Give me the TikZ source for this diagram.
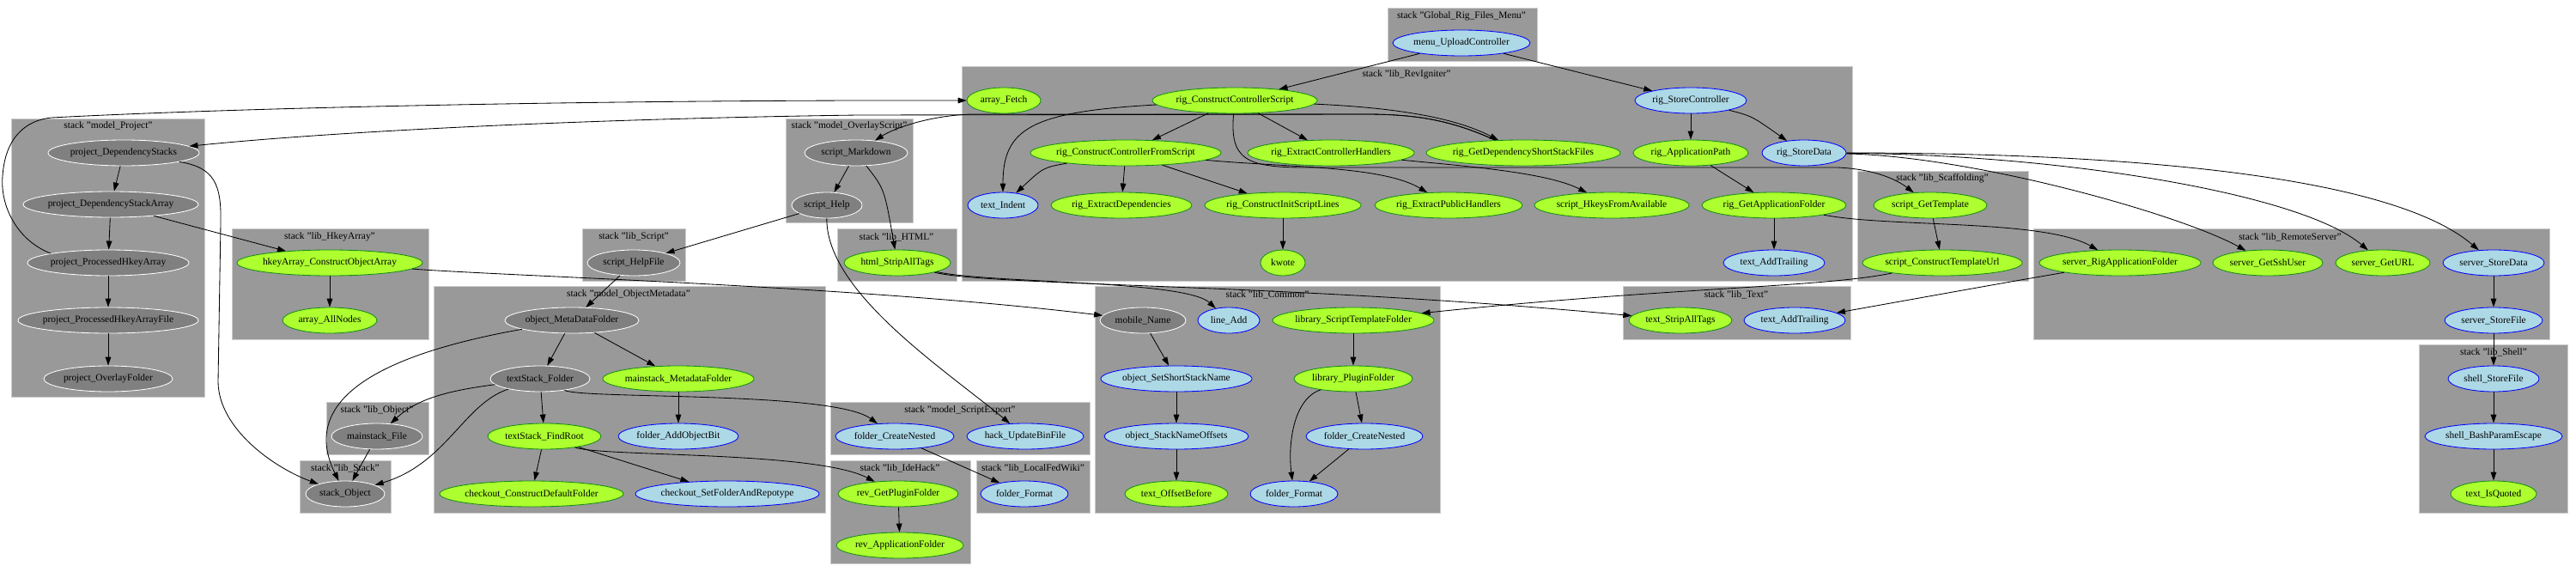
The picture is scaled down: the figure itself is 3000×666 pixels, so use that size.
\documentclass[tikz,border=0pt]{standalone}
\usepackage{fontspec}
\setmainfont{Liberation Serif}
\usetikzlibrary{shapes.geometric,arrows.meta}
\definecolor{clfill}{RGB}{153,153,153}
\definecolor{clline}{RGB}{204,204,204}
\definecolor{gnfill}{RGB}{128,128,128}
\definecolor{grfill}{RGB}{173,255,47}
\definecolor{grline}{RGB}{20,140,20}
\definecolor{blfill}{RGB}{173,216,230}
\definecolor{blline}{RGB}{0,0,255}
\tikzset{
 nd/.style={ellipse, inner xsep=-6pt, inner ysep=0pt, minimum height=36pt, minimum width=#1*2.4pt, line width=1pt, font=\fontsize{13.7}{16}\selectfont},
 gn/.style={nd=#1, fill=gnfill, draw=white},
 gr/.style={nd=#1, fill=grfill, draw=grline},
 bl/.style={nd=#1, fill=blfill, draw=blline},
 cl/.style={fill=clfill, draw=clline, line width=1pt},
 cll/.style={font=\fontsize{13.7}{16}\selectfont, inner sep=0pt},
 ed/.style={line width=1pt, -{Triangle[length=12pt,width=8pt]}},
}
\begin{document}
\begin{tikzpicture}[x=1.2pt,y=-1.2pt]
\useasboundingbox[fill=white] (0,0) rectangle (3000,666);
% clusters
\path[cl] (1616,9) rectangle (1790,71);
\path[cl] (1120,77) rectangle (2157,327);
\path[cl] (13,138) rectangle (238,462);
\path[cl] (915,138) rectangle (1063,259);
\path[cl] (270,266) rectangle (499,395);
\path[cl] (678,266) rectangle (798,327);
\path[cl] (975,266) rectangle (1114,327);
\path[cl] (2163,199) rectangle (2362,327);
\path[cl] (505,333) rectangle (961,597);
\path[cl] (1275,333) rectangle (1677,597);
\path[cl] (1890,333) rectangle (2155,395);
\path[cl] (2368,266) rectangle (2969,395);
\path[cl] (2817,401) rectangle (2990,597);
\path[cl] (380,468) rectangle (499,529);
\path[cl] (349,536) rectangle (455,597);
\path[cl] (967,468) rectangle (1269,529);
\path[cl] (967,536) rectangle (1130,656);
\path[cl] (1137,536) rectangle (1269,597);
% cluster labels
\node[cll] (Lmenu) at (1702,19) {stack "Global\_Rig\_Files\_Menu"};
\node[cll] (Lrev) at (1638,87) {stack "lib\_RevIgniter"};
\node[cll] (Lproj) at (126,147) {stack "model\_Project"};
\node[cll] (Lovl) at (989,147) {stack "model\_OverlayScript"};
\node[cll] (Lhk) at (384,276) {stack "lib\_HkeyArray"};
\node[cll] (Lscr) at (738,276) {stack "lib\_Script"};
\node[cll] (Lhtml) at (1044,276) {stack "lib\_HTML"};
\node[cll] (Lscaf) at (2262,208) {stack "lib\_Scaffolding"};
\node[cll] (Lomd) at (732,343) {stack "model\_ObjectMetadata"};
\node[cll] (Lcom) at (1476,343) {stack "lib\_Common"};
\node[cll] (Ltext) at (2022,343) {stack "lib\_Text"};
\node[cll] (Lrem) at (2667,276) {stack "lib\_RemoteServer"};
\node[cll] (Lsh) at (2904,410) {stack "lib\_Shell"};
\node[cll] (Lobj) at (439,478) {stack "lib\_Object"};
\node[cll] (Lstk) at (402,545) {stack "lib\_Stack"};
\node[cll] (Lexp) at (1118,478) {stack "model\_ScriptExport"};
\node[cll] (Lide) at (1048,545) {stack "lib\_IdeHack"};
\node[cll] (Lfed) at (1203,545) {stack "lib\_LocalFedWiki"};
% nodes
\node[bl=80] (menu) at (1702,50) {menu\_UploadController};
\node[gr=43] (arrayFetch) at (1169,117) {array\_Fetch};
\node[gr=96] (rccs) at (1438,117) {rig\_ConstructControllerScript};
\node[bl=65] (rsc) at (1969,117) {rig\_StoreController};
\node[gr=111] (rccfs) at (1311,178) {rig\_ConstructControllerFromScript};
\node[gr=97] (rech) at (1550,178) {rig\_ExtractControllerHandlers};
\node[gr=113] (rgdssf) at (1774,178) {rig\_GetDependencyShortStackFiles};
\node[gr=67] (rap) at (1969,178) {rig\_ApplicationPath};
\node[bl=49] (rsd) at (2101,178) {rig\_StoreData};
\node[bl=41] (textIndent) at (1168,239) {text\_Indent};
\node[gr=82] (red) at (1306,239) {rig\_ExtractDependencies};
\node[gr=91] (rcisl) at (1494,239) {rig\_ConstructInitScriptLines};
\node[gr=86] (reph) at (1687,239) {rig\_ExtractPublicHandlers};
\node[gr=90] (shfa) at (1877,239) {script\_HkeysFromAvailable};
\node[gr=84] (rgaf) at (2066,239) {rig\_GetApplicationFolder};
\node[gr=26] (kwote) at (1494,306) {kwote};
\node[bl=59] (tatR) at (2066,306) {text\_AddTrailing};
\node[gr=66] (sgt) at (2248,239) {script\_GetTemplate};
\node[gr=93] (sctu) at (2262,306) {script\_ConstructTemplateUrl};
\node[gr=94] (sraf) at (2469,306) {server\_RigApplicationFolder};
\node[gr=64] (sgsu) at (2641,306) {server\_GetSshUser};
\node[gr=55] (sgurl) at (2775,306) {server\_GetURL};
\node[bl=59] (ssd) at (2904,306) {server\_StoreData};
\node[bl=57] (ssf) at (2904,373) {server\_StoreFile};
\node[bl=53] (shsf) at (2904,441) {shell\_StoreFile};
\node[bl=80] (sbpe) at (2904,508) {shell\_BashParamEscape};
\node[gr=50] (tiq) at (2904,575) {text\_IsQuoted};
\node[gr=60] (tsat) at (1957,373) {text\_StripAllTags};
\node[bl=59] (tatT) at (2090,373) {text\_AddTrailing};
\node[gn=88] (pds) at (144,178) {project\_DependencyStacks};
\node[gn=102] (pdsa) at (129,238) {project\_DependencyStackArray};
\node[gn=94] (pphka) at (126,306) {project\_ProcessedHkeyArray};
\node[gn=105] (pphkaf) at (126,373) {project\_ProcessedHkeyArrayFile};
\node[gn=75] (pof) at (126,441) {project\_OverlayFolder};
\node[gr=108] (hcoa) at (384,306) {hkeyArray\_ConstructObjectArray};
\node[gr=55] (aan) at (384,373) {array\_AllNodes};
\node[gn=53] (mf) at (439,508) {mainstack\_File};
\node[gn=46] (so) at (402,575) {stack\_Object};
\node[gn=60] (smd) at (997,178) {script\_Markdown};
\node[gn=41] (sh) at (963,239) {script\_Help};
\node[gn=54] (shf) at (738,306) {script\_HelpFile};
\node[gr=62] (hsat) at (1045,306) {html\_StripAllTags};
\node[gn=78] (omdf) at (666,373) {object\_MetaDataFolder};
\node[gn=58] (tsf) at (629,441) {textStack\_Folder};
\node[gr=88] (mmf) at (790,441) {mainstack\_MetadataFolder};
\node[gr=66] (tsfr) at (634,508) {textStack\_FindRoot};
\node[bl=70] (faob) at (790,508) {folder\_AddObjectBit};
\node[gr=107] (ccdf) at (619,575) {checkout\_ConstructDefaultFolder};
\node[bl=107] (csfar) at (847,575) {checkout\_SetFolderAndRepotype};
\node[bl=69] (fcnS) at (1042,508) {folder\_CreateNested};
\node[bl=68] (hubf) at (1194,508) {hack\_UpdateBinFile};
\node[gr=70] (rgpf) at (1046,575) {rev\_GetPluginFolder};
\node[gr=74] (raf) at (1048,635) {rev\_ApplicationFolder};
\node[bl=51] (ffL) at (1193,575) {folder\_Format};
\node[gn=50] (mn) at (1331,373) {mobile\_Name};
\node[bl=36] (la) at (1431,373) {line\_Add};
\node[gr=94] (lstf) at (1576,373) {library\_ScriptTemplateFolder};
\node[bl=88] (ossn) at (1370,441) {object\_SetShortStackName};
\node[bl=84] (osno) at (1370,508) {object\_StackNameOffsets};
\node[gr=60] (tob) at (1370,575) {text\_OffsetBefore};
\node[gr=69] (lpf) at (1576,441) {library\_PluginFolder};
\node[bl=68] (fcnC) at (1589,508) {folder\_CreateNested};
\node[bl=51] (ffC) at (1507,575) {folder\_Format};
% edges
\draw[ed] (menu) -- (rccs);
\draw[ed] (menu) -- (rsc);
\draw[ed] (rccs) -- (rccfs);
\draw[ed] (rccs) -- (rech);
\draw[ed] (rccs) .. controls (1640,126) and (1700,140) .. (rgdssf);
\draw[ed] (rccs) .. controls (1200,130) and (1168,150) .. (textIndent);
\draw[ed] (rccs) .. controls (1432,185) and (1450,195) .. (1520,195) -- (2140,195) .. controls (2185,197) and (2210,210) .. (sgt);
\draw[ed] (rccfs) .. controls (1215,195) .. (textIndent);
\draw[ed] (rccfs) -- (red);
\draw[ed] (rccfs) -- (rcisl);
\draw[ed] (rccfs) .. controls (1500,195) and (1610,193) .. (reph);
\draw[ed] (rcisl) -- (kwote);
\draw[ed] (rech) .. controls (1700,193) and (1800,200) .. (shfa);
\draw[ed] (rgdssf) .. controls (1690,140) and (1650,133) .. (1590,133) -- (1000,134) .. controls (700,138) and (400,152) .. (pds);
\draw[ed] (rgdssf) .. controls (1690,140) and (1650,133) .. (1590,133) -- (1130,133) .. controls (1080,135) and (1040,150) .. (smd);
\draw[ed] (rsc) -- (rap);
\draw[ed] (rsc) .. controls (2040,135) .. (rsd);
\draw[ed] (rap) -- (rgaf);
\draw[ed] (rgaf) -- (tatR);
\draw[ed] (rgaf) .. controls (2200,265) and (2380,255) .. (sraf);
\draw[ed] (rsd) .. controls (2300,182) and (2540,250) .. (sgsu);
\draw[ed] (rsd) .. controls (2400,180) and (2680,225) .. (sgurl);
\draw[ed] (rsd) .. controls (2450,178) and (2780,200) .. (ssd);
\draw[ed] (ssd) -- (ssf);
\draw[ed] (ssf) -- (shsf);
\draw[ed] (shsf) -- (sbpe);
\draw[ed] (sbpe) -- (tiq);
\draw[ed] (sgt) -- (sctu);
\draw[ed] (sctu) .. controls (2120,335) and (1950,334) .. (lstf);
\draw[ed] (sraf) .. controls (2330,330) .. (tatT);
\draw[ed] (hsat) .. controls (1150,333) and (1500,330) .. (tsat);
\draw[ed] (hsat) .. controls (1150,330) and (1380,326) .. (la);
\draw[ed] (hcoa) .. controls (600,322) and (1000,333) .. (mn);
\draw[ed] (smd) -- (sh);
\draw[ed] (smd) .. controls (1030,220) .. (hsat);
\draw[ed] (sh) -- (shf);
\draw[ed] (sh) .. controls (962,340) and (1100,430) .. (hubf);
\draw[ed] (shf) -- (omdf);
\draw[ed] (omdf) -- (tsf);
\draw[ed] (omdf) -- (mmf);
\draw[ed] (mmf) -- (faob);
\draw[ed] (tsf) -- (tsfr);
\draw[ed] (tsfr) -- (ccdf);
\draw[ed] (tsfr) -- (csfar);
\draw[ed] (tsfr) .. controls (700,532) and (950,525) .. (rgpf);
\draw[ed] (tsf) .. controls (680,465) and (970,455) .. (fcnS);
\draw[ed] (fcnS) -- (ffL);
\draw[ed] (rgpf) -- (raf);
\draw[ed] (omdf) .. controls (430,415) and (350,470) .. (so);
\draw[ed] (tsf) .. controls (520,455) and (485,465) .. (mf);
\draw[ed] (tsf) .. controls (540,470) and (520,540) .. (so);
\draw[ed] (mf) -- (so);
\draw[ed] (pds) .. controls (250,195) and (258,215) .. (257,260) -- (254,445) .. controls (255,500) and (320,545) .. (so);
\draw[ed] (pds) -- (pdsa);
\draw[ed] (pdsa) -- (pphka);
\draw[ed] (pphka) -- (pphkaf);
\draw[ed] (pphkaf) -- (pof);
\draw[ed] (pdsa) -- (hcoa);
\draw[ed] (hcoa) -- (aan);
\draw[ed] (pphka.north west) .. controls (20,280) and (0,240) .. (3,205) .. controls (6,160) and (30,140) .. (60,137) .. controls (250,127) and (600,118) .. (1000,117) -- (arrayFetch);
\draw[ed] (mn) -- (ossn);
\draw[ed] (ossn) -- (osno);
\draw[ed] (osno) -- (tob);
\draw[ed] (lstf) -- (lpf);
\draw[ed] (lpf) -- (fcnC);
\draw[ed] (fcnC) -- (ffC);
\draw[ed] (lpf) .. controls (1505,465) and (1500,520) .. (ffC);
\end{tikzpicture}
\end{document}
